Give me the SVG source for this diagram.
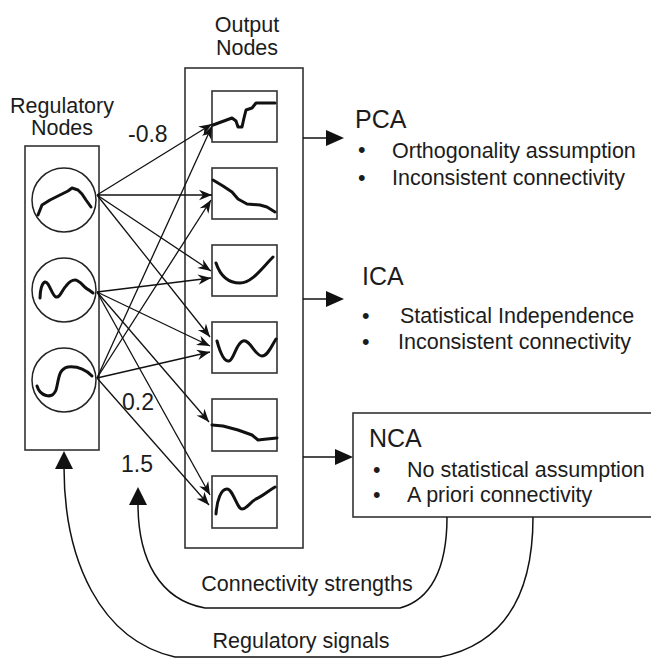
<svg xmlns="http://www.w3.org/2000/svg" width="651" height="658" viewBox="0 0 651 658">
<defs>
<marker id="stealth" markerUnits="userSpaceOnUse" markerWidth="16" markerHeight="12" refX="14" refY="6" orient="auto" viewBox="0 0 16 12">
<path d="M14,6 L1,0.8 L5,6 L1,11.2 z" fill="#111"/>
</marker>
</defs>
<style>
text{font-family:"Liberation Sans",Arial,sans-serif;fill:#1c1c1c}
.t{font-size:21.5px}
.h{font-size:25px}
.n{font-size:23px}
.box{fill:none;stroke:#333;stroke-width:1.6}
.wave{fill:none;stroke:#111;stroke-width:3;stroke-linejoin:round;stroke-linecap:round}
.conn{fill:none;stroke:#111;stroke-width:1.3}
.big{fill:none;stroke:#111;stroke-width:1.5}
</style>
<rect width="651" height="658" fill="#fff"/>

<g id="regulatory-nodes">
<text class="t" x="62" y="113" text-anchor="middle">Regulatory</text>
<text class="t" x="62" y="135" text-anchor="middle">Nodes</text>
<rect class="box" x="25" y="146" width="74" height="304"/>
<g id="reg1">
<circle cx="64" cy="200" r="32" fill="none" stroke="#222" stroke-width="1.5"/>
<polyline class="wave" points="38,215 42,205 50,200 62,194 68,191 72,188 78,190 82,194 86,200 91,207"/>
</g>
<g id="reg2">
<circle cx="64" cy="290" r="32" fill="none" stroke="#222" stroke-width="1.5"/>
<path class="wave" d="M40,298 C40,290 42,283 45,282 C49,281 52,296 56,297 C60,298 62,290 66,286 C69,282 72,280 75,280 C80,280 84,288 89,290 L93,293"/>
</g>
<g id="reg3">
<circle cx="64" cy="380" r="32" fill="none" stroke="#222" stroke-width="1.5"/>
<path class="wave" d="M37,386 C40,396 52,400 56,390 C59,380 58,369 68,367 C78,366 86,370 92,376"/>
</g>
</g>

<g id="output-nodes">
<text class="t" x="247" y="32" text-anchor="middle">Output</text>
<text class="t" x="247" y="55" text-anchor="middle">Nodes</text>
<rect class="box" x="185" y="68" width="118" height="480"/>
<g id="out1"><rect class="box" x="212" y="91" width="65" height="51"/>
<polyline class="wave" points="213,125 232,118 236,121 238,127 242,127 244,118 246,110 252,108 256,103 275,103"/></g>
<g id="out2"><rect class="box" x="212" y="168" width="65" height="51"/>
<polyline class="wave" points="213,180 223,186 232,192 238,199 247,204 260,205 267,207 275,212"/></g>
<g id="out3"><rect class="box" x="212" y="245" width="65" height="51"/>
<path class="wave" d="M216,263 C220,275 228,283 240,283 C252,283 262,268 273,257"/></g>
<g id="out4"><rect class="box" x="212" y="322" width="65" height="51"/>
<path class="wave" d="M217,341 C220,352 224,362 229,361 C234,360 236,343 243,341 C250,339 255,356 262,356 C268,356 272,345 276,339"/></g>
<g id="out5"><rect class="box" x="212" y="399" width="65" height="52"/>
<polyline class="wave" points="212,425 223,426 238,430 252,435 258,440 267,439 277,438"/></g>
<g id="out6"><rect class="box" x="212" y="476" width="65" height="52"/>
<path class="wave" d="M216,514 C217,500 221,489 227,489 C233,489 237,509 242,509 C247,509 250,502 256,499 C263,496 268,491 275,487"/></g>
</g>

<g id="pca">
<text class="h" x="355" y="128">PCA</text>
<text class="t" x="358" y="157">•</text>
<text class="t" x="392" y="158">Orthogonality assumption</text>
<text class="t" x="358" y="185">•</text>
<text class="t" x="392" y="185">Inconsistent connectivity</text>
</g>
<g id="ica">
<text class="h" x="362" y="285">ICA</text>
<text class="t" x="362" y="323">•</text>
<text class="t" x="400" y="323">Statistical Independence</text>
<text class="t" x="362" y="349">•</text>
<text class="t" x="398" y="349">Inconsistent connectivity</text>
</g>
<g id="nca">
<rect class="box" x="353" y="413" width="310" height="104" fill="#fff"/>
<text class="h" x="369" y="447">NCA</text>
<text class="t" x="373" y="477">•</text>
<text class="t" x="407" y="477">No statistical assumption</text>
<text class="t" x="373" y="502">•</text>
<text class="t" x="407" y="502">A priori connectivity</text>
</g>

<g id="connectors">
<line class="conn" x1="97" y1="195" x2="212" y2="124" marker-end="url(#stealth)"/>
<line class="conn" x1="97" y1="195" x2="212" y2="195" marker-end="url(#stealth)"/>
<line class="conn" x1="97" y1="195" x2="211" y2="271" marker-end="url(#stealth)"/>
<line class="conn" x1="97" y1="195" x2="210" y2="337" marker-end="url(#stealth)"/>
<line class="conn" x1="97" y1="292" x2="211" y2="278" marker-end="url(#stealth)"/>
<line class="conn" x1="97" y1="292" x2="210" y2="346" marker-end="url(#stealth)"/>
<line class="conn" x1="97" y1="292" x2="209" y2="422" marker-end="url(#stealth)"/>
<line class="conn" x1="97" y1="292" x2="210" y2="495" marker-end="url(#stealth)"/>
<line class="conn" x1="97" y1="378" x2="212" y2="126" marker-end="url(#stealth)"/>
<line class="conn" x1="97" y1="378" x2="211" y2="200" marker-end="url(#stealth)"/>
<line class="conn" x1="97" y1="378" x2="210" y2="352" marker-end="url(#stealth)"/>
<line class="conn" x1="97" y1="378" x2="209" y2="505" marker-end="url(#stealth)"/>

<line class="big" x1="303" y1="138" x2="328" y2="138"/>
<polygon points="344,138 326,130 326,146" fill="#111"/>
<line class="big" x1="303" y1="299" x2="328" y2="299"/>
<polygon points="344,299 326,291 326,307" fill="#111"/>
<line class="big" x1="303" y1="457" x2="337" y2="457"/>
<polygon points="353,457 335,449 335,465" fill="#111"/>

<path class="big" d="M447,517 C447,570 430,600 400,608 L205,608 C160,600 138,560 138,504"/>
<polygon points="138,487 129,505 147,505" fill="#111"/>
<path class="big" d="M533,517 C533,600 500,645 440,657 L175,657 C100,640 64,560 64,467"/>
<polygon points="64,451 55,469 73,469" fill="#111"/>
</g>

<g id="labels">
<text class="n" x="128" y="142">-0.8</text>
<text class="n" x="122" y="410">0.2</text>
<text class="n" x="121" y="472">1.5</text>
<text class="t" x="307" y="591" text-anchor="middle">Connectivity strengths</text>
<text class="t" x="301" y="648" text-anchor="middle">Regulatory signals</text>
</g>
</svg>
